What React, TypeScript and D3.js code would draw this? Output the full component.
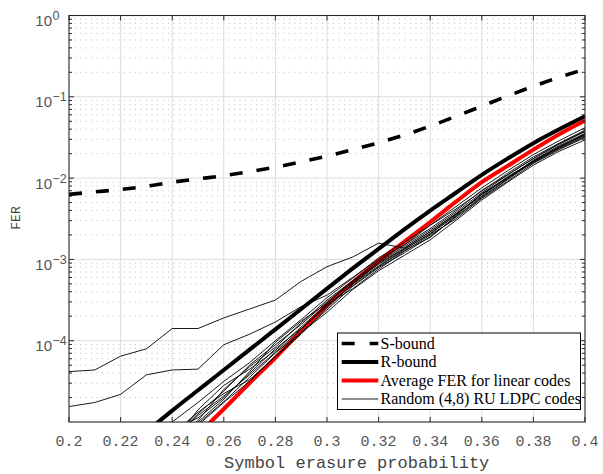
import React from "react";
import * as d3 from "d3";

// ---------- data (FER values stored as log10 exponents) ----------
const xTicks = [0.2, 0.22, 0.24, 0.26, 0.28, 0.3, 0.32, 0.34, 0.36, 0.38, 0.4];
const xTickLabels = ["0.2", "0.22", "0.24", "0.26", "0.28", "0.3", "0.32", "0.34", "0.36", "0.38", "0.4"];
const yTickExps = [0, -1, -2, -3, -4];
const yTickLabels = ["0", "-1", "-2", "-3", "-4"];

const xFull = [0.2, 0.21, 0.22, 0.23, 0.24, 0.25, 0.26, 0.27, 0.28, 0.29, 0.3, 0.31, 0.32, 0.33, 0.34, 0.35, 0.36, 0.37, 0.38, 0.39, 0.4];
const sBoundExp = [-2.2, -2.17, -2.14, -2.1, -2.05, -2.01, -1.97, -1.92, -1.865, -1.8, -1.73, -1.65, -1.565, -1.47, -1.36, -1.24, -1.115, -0.99, -0.87, -0.76, -0.66];

const rBoundX = [0.23, 0.24, 0.25, 0.26, 0.27, 0.28, 0.29, 0.3, 0.31, 0.32, 0.33, 0.34, 0.35, 0.36, 0.37, 0.38, 0.39, 0.4];
const rBoundExp = [-5.12, -4.86, -4.61, -4.36, -4.11, -3.86, -3.61, -3.36, -3.11, -2.87, -2.63, -2.4, -2.18, -1.96, -1.76, -1.57, -1.4, -1.24];

const avgX = [0.25, 0.26, 0.27, 0.28, 0.29, 0.3, 0.31, 0.32, 0.33, 0.34, 0.35, 0.36, 0.37, 0.38, 0.39, 0.4];
const avgExp = [-5.15, -4.84, -4.52, -4.21, -3.88, -3.56, -3.28, -3.02, -2.78, -2.54, -2.29, -2.05, -1.85, -1.65, -1.46, -1.29];

const ldpcOutlierA = [-4.38, -4.36, -4.19, -4.1, -3.85, -3.85, -3.72, -3.61, -3.5, -3.27, -3.09, -2.97, -2.8, -2.86, -2.66, -2.44, -2.2, -2.0, -1.79, -1.62, -1.46];
const ldpcOutlierB = [-4.81, -4.76, -4.66, -4.42, -4.36, -4.35, -4.05, -3.92, -3.77, -3.58, -3.44, -3.22, -3.0, -2.82, -2.62, -2.4, -2.15, -1.96, -1.76, -1.58, -1.42];

const ldpcX = [0.24, 0.25, 0.26, 0.27, 0.28, 0.29, 0.3, 0.31, 0.32, 0.33, 0.34, 0.35, 0.36, 0.37, 0.38, 0.39, 0.4];
const ldpc1 = [-5.0, -4.76, -4.5, -4.27, -4.0, -3.74, -3.47, -3.23, -2.98, -2.79, -2.58, -2.35, -2.12, -1.91, -1.71, -1.54, -1.38];
const ldpc2 = [-5.2, -4.9, -4.62, -4.3, -4.05, -3.8, -3.52, -3.27, -3.04, -2.84, -2.64, -2.42, -2.18, -1.96, -1.76, -1.58, -1.43];
const ldpc3 = [-5.1, -4.95, -4.7, -4.4, -4.1, -3.85, -3.58, -3.3, -3.08, -2.88, -2.68, -2.45, -2.2, -2.0, -1.78, -1.6, -1.45];
const ldpc4 = [-5.3, -5.02, -4.75, -4.45, -4.15, -3.9, -3.62, -3.33, -3.1, -2.92, -2.72, -2.48, -2.24, -2.02, -1.8, -1.63, -1.48];
const ldpc5 = [-5.25, -4.85, -4.55, -4.35, -4.12, -3.83, -3.55, -3.36, -3.12, -2.9, -2.7, -2.5, -2.25, -2.04, -1.82, -1.65, -1.5];
const ldpc6 = [-5.15, -4.88, -4.65, -4.48, -4.2, -3.92, -3.6, -3.3, -3.05, -2.86, -2.66, -2.44, -2.22, -1.98, -1.8, -1.62, -1.46];
const ldpc7 = [-5.4, -5.04, -4.76, -4.5, -4.19, -3.9, -3.65, -3.37, -3.14, -2.95, -2.76, -2.52, -2.27, -2.05, -1.84, -1.67, -1.53];
const ldpc8 = [-5.3, -4.98, -4.6, -4.32, -4.08, -3.78, -3.5, -3.26, -3.02, -2.82, -2.58, -2.38, -2.16, -1.94, -1.74, -1.57, -1.41];
const ldpc9 = [-5.2, -4.92, -4.68, -4.42, -4.14, -3.86, -3.56, -3.32, -3.09, -2.89, -2.73, -2.47, -2.23, -2.01, -1.79, -1.61, -1.47];
const ldpc10 = [-5.35, -5.0, -4.72, -4.38, -4.02, -3.76, -3.54, -3.28, -3.06, -2.87, -2.69, -2.46, -2.19, -1.99, -1.81, -1.64, -1.49];

const legendLabels = ["S-bound", "R-bound", "Average FER for linear codes", "Random (4,8) RU LDPC codes"];

// ---------- layout ----------
const W = 603;
const H = 474;
const L = 69, R = 585, T = 15.5, B = 422;

const x = d3.scaleLinear().domain([0.2, 0.4]).range([L, R]);
const y = d3.scaleLog().domain([1e-5, 1]).range([B, T]);

type P = [number, number];
const toPts = (xs: number[], es: number[]): P[] => xs.map((v, i) => [v, Math.pow(10, es[i])]);

const lineLin = d3.line<P>().x((d) => x(d[0])).y((d) => y(d[1]));
const lineSmooth = d3.line<P>().x((d) => x(d[0])).y((d) => y(d[1])).curve(d3.curveMonotoneX);

const minorVals: number[] = [];
for (let e = -5; e <= -1; e++) {
  for (let k = 2; k <= 9; k++) minorVals.push(k * Math.pow(10, e));
}

const MONO = "'Liberation Mono', 'DejaVu Sans Mono', monospace";
const SANS = "'Liberation Sans', Arial, sans-serif";
const SERIF = "'Liberation Serif', 'Times New Roman', serif";

export default function App() {
  const thinSeries = [ldpc1, ldpc2, ldpc3, ldpc4, ldpc5, ldpc6, ldpc7, ldpc8, ldpc9, ldpc10];
  const axisColor = "#262626";
  const tickColor = "#555";
  const legX0 = 337.5, legX1 = 580.5, legY0 = 333, legY1 = 409.5;
  const legRows = [343.5, 362, 380.5, 399];
  const sx0 = 341.7, sx1 = 378.3;
  return (
    <svg width={W} height={H} style={{ position: "absolute", left: 0, top: 0, background: "#fff" }}>
      <defs>
        <clipPath id="plotclip">
          <rect x={L} y={T} width={R - L} height={B - T} />
        </clipPath>
      </defs>
      <rect x={L} y={T} width={R - L} height={B - T} fill="#fff" />
      {/* minor grid */}
      {minorVals.map((v, i) => (
        <line key={"mg" + i} x1={L} x2={R} y1={y(v)} y2={y(v)} stroke="#bdbdbd" strokeWidth={1} strokeDasharray="1,4.5" />
      ))}
      {/* major grid */}
      {yTickExps.slice(1).map((e, i) => (
        <line key={"gy" + i} x1={L} x2={R} y1={y(Math.pow(10, e))} y2={y(Math.pow(10, e))} stroke="#dcdcdc" strokeWidth={1} />
      ))}
      {xTicks.slice(1, -1).map((t, i) => (
        <line key={"gx" + i} x1={x(t)} x2={x(t)} y1={T} y2={B} stroke="#dcdcdc" strokeWidth={1} />
      ))}

      {/* data */}
      <g clipPath="url(#plotclip)" fill="none" strokeLinejoin="round">
        <path d={lineSmooth(toPts(xFull, sBoundExp)) || ""} stroke="#000" strokeWidth={3.6} strokeDasharray="13,14" />
        <path d={lineSmooth(toPts(rBoundX, rBoundExp)) || ""} stroke="#000" strokeWidth={4} />
        <path d={lineSmooth(toPts(avgX, avgExp)) || ""} stroke="#ff0000" strokeWidth={4} />
        {thinSeries.map((s, i) => (
          <path key={"t" + i} d={lineLin(toPts(ldpcX, s)) || ""} stroke="#000" strokeWidth={0.9} />
        ))}
        <path d={lineLin(toPts(xFull, ldpcOutlierA)) || ""} stroke="#000" strokeWidth={0.9} />
        <path d={lineLin(toPts(xFull, ldpcOutlierB)) || ""} stroke="#000" strokeWidth={0.9} />
      </g>

      {/* box */}
      <rect x={L} y={T} width={R - L} height={B - T} fill="none" stroke={axisColor} strokeWidth={1.1} />
      {/* x ticks */}
      {xTicks.map((t, i) => (
        <g key={"xt" + i}>
          <line x1={x(t)} x2={x(t)} y1={B} y2={B - 5} stroke={axisColor} />
          <line x1={x(t)} x2={x(t)} y1={T} y2={T + 5} stroke={axisColor} />
          <text x={x(t)} y={446} textAnchor="middle" fontFamily={MONO} fontSize={15} fill={tickColor}>
            {xTickLabels[i]}
          </text>
        </g>
      ))}
      {/* y major ticks */}
      {yTickExps.map((e, i) => {
        const yy = y(Math.pow(10, e));
        return (
          <g key={"yt" + i}>
            <line x1={L} x2={L + 5} y1={yy} y2={yy} stroke={axisColor} />
            <line x1={R} x2={R - 5} y1={yy} y2={yy} stroke={axisColor} />
            <text x={52} y={yy + 10.5} textAnchor="end" fontFamily={SANS} fontSize={15} fill={tickColor}>
              10
            </text>
            <text x={52.5} y={yy + 4.5} textAnchor="start" fontFamily={SANS} fontSize={12.5} fill={tickColor}>
              {yTickLabels[i].replace("-", "\u2212")}
            </text>
          </g>
        );
      })}
      {/* y minor ticks */}
      {minorVals.map((v, i) => (
        <g key={"ym" + i}>
          <line x1={L} x2={L + 3} y1={y(v)} y2={y(v)} stroke={axisColor} />
          <line x1={R} x2={R - 3} y1={y(v)} y2={y(v)} stroke={axisColor} />
        </g>
      ))}

      {/* axis labels */}
      <text x={356.7} y={468} textAnchor="middle" fontFamily={MONO} fontSize={17} fill="#444">
        Symbol erasure probability
      </text>
      <text transform="translate(20,218) rotate(-90)" textAnchor="middle" fontFamily={MONO} fontSize={13} fill="#444">
        FER
      </text>

      {/* legend */}
      <rect x={legX0} y={legY0} width={legX1 - legX0} height={legY1 - legY0} fill="#fff" stroke="#000" strokeWidth={1} />
      <line x1={sx0} x2={sx1} y1={legRows[0]} y2={legRows[0]} stroke="#000" strokeWidth={3.6} strokeDasharray="13,15" />
      <line x1={sx0} x2={sx1} y1={legRows[1]} y2={legRows[1]} stroke="#000" strokeWidth={4} />
      <line x1={sx0} x2={sx1} y1={legRows[2]} y2={legRows[2]} stroke="#ff0000" strokeWidth={4} />
      <line x1={sx0} x2={sx1} y1={legRows[3]} y2={legRows[3]} stroke="#000" strokeWidth={0.9} />
      {legendLabels.map((lab, i) => (
        <text key={"lg" + i} x={380.5} y={legRows[i] + 5} fontFamily={SERIF} fontSize={16} fill="#000">
          {lab}
        </text>
      ))}
    </svg>
  );
}
